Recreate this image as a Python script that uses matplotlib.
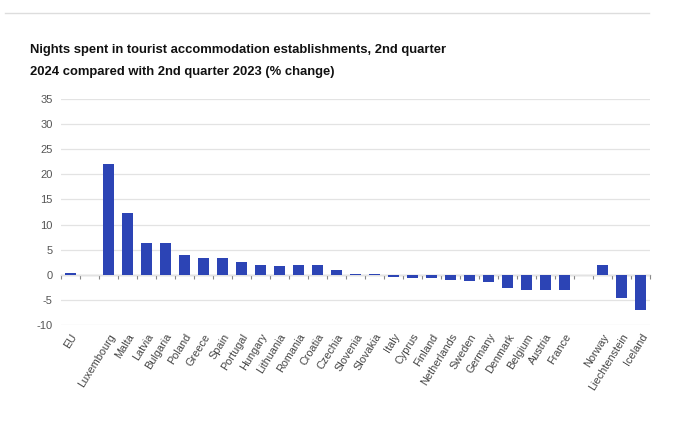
import numpy as np
import matplotlib.pyplot as plt
from matplotlib.lines import Line2D

# ---- data ----
countries = ["EU", "",
             "Luxembourg", "Malta", "Latvia", "Bulgaria", "Poland", "Greece", "Spain",
             "Portugal", "Hungary", "Lithuania", "Romania", "Croatia", "Czechia",
             "Slovenia", "Slovakia", "Italy", "Cyprus", "Finland", "Netherlands",
             "Sweden", "Germany", "Denmark", "Belgium", "Austria", "France", "",
             "Norway", "Liechtenstein", "Iceland"]
change = [0.3, None,
          22.1, 12.3, 6.4, 6.4, 4.0, 3.3, 3.3,
          2.5, 2.0, 1.8, 1.9, 1.9, 0.9,
          0.2, 0.2, -0.4, -0.7, -0.7, -1.0,
          -1.2, -1.5, -2.6, -3.0, -3.1, -3.1, None,
          1.9, -4.6, -7.0]
yticks = [-10, -5, 0, 5, 10, 15, 20, 25, 30, 35]

title_lines = ["Nights spent in tourist accommodation establishments, 2nd quarter",
               "2024 compared with 2nd quarter 2023 (% change)"]

plt.rcParams['font.family'] = ['Liberation Sans', 'DejaVu Sans']
plt.rcParams['axes.unicode_minus'] = False

x = np.arange(len(countries))
vals = np.array([np.nan if v is None else v for v in change])

fig = plt.figure(figsize=(7, 4.28), dpi=100)
ax = fig.add_axes([0.087, 0.2407, 0.842, 0.528])

ax.bar(x, vals, width=0.6, color="#2C44B5", zorder=3)

ax.set_xlim(-0.5, len(countries) - 0.5)
ax.set_ylim(-10, 35)
ax.set_yticks(yticks)
ax.tick_params(axis='y', length=0, labelsize=8, labelcolor="#555555", pad=6)
ax.yaxis.grid(True, color="#e3e3e3", linewidth=0.9, zorder=0)
for s in ax.spines.values():
    s.set_visible(False)

ax.set_xticks(x)
ax.set_xticklabels(countries, rotation=58, ha='right', rotation_mode='anchor',
                   fontsize=7.8, color="#444444")
ax.tick_params(axis='x', length=0, pad=5)

# zero line with small ticks at category boundaries
zx = ax.secondary_xaxis(10 / 45)
zx.set_xticks(np.arange(len(countries) + 1) - 0.5)
zx.set_xticklabels([])
zx.tick_params(axis='x', direction='out', length=3, color="#888888", width=0.8)
zx.spines['bottom'].set_color("#999999")
zx.spines['bottom'].set_linewidth(0.9)

# title, two lines as in the original
fig.text(0.043, 1 - 50 / 428, title_lines[0], fontsize=9.4, fontweight='bold',
         va='center', ha='left', color="#111111")
fig.text(0.043, 1 - 72 / 428, title_lines[1], fontsize=9.4, fontweight='bold',
         va='center', ha='left', color="#111111")

fig.add_artist(Line2D([0.007, 0.927], [0.970, 0.970], color="#dddddd", linewidth=1.0))

fig.savefig("out.png", dpi=100)
